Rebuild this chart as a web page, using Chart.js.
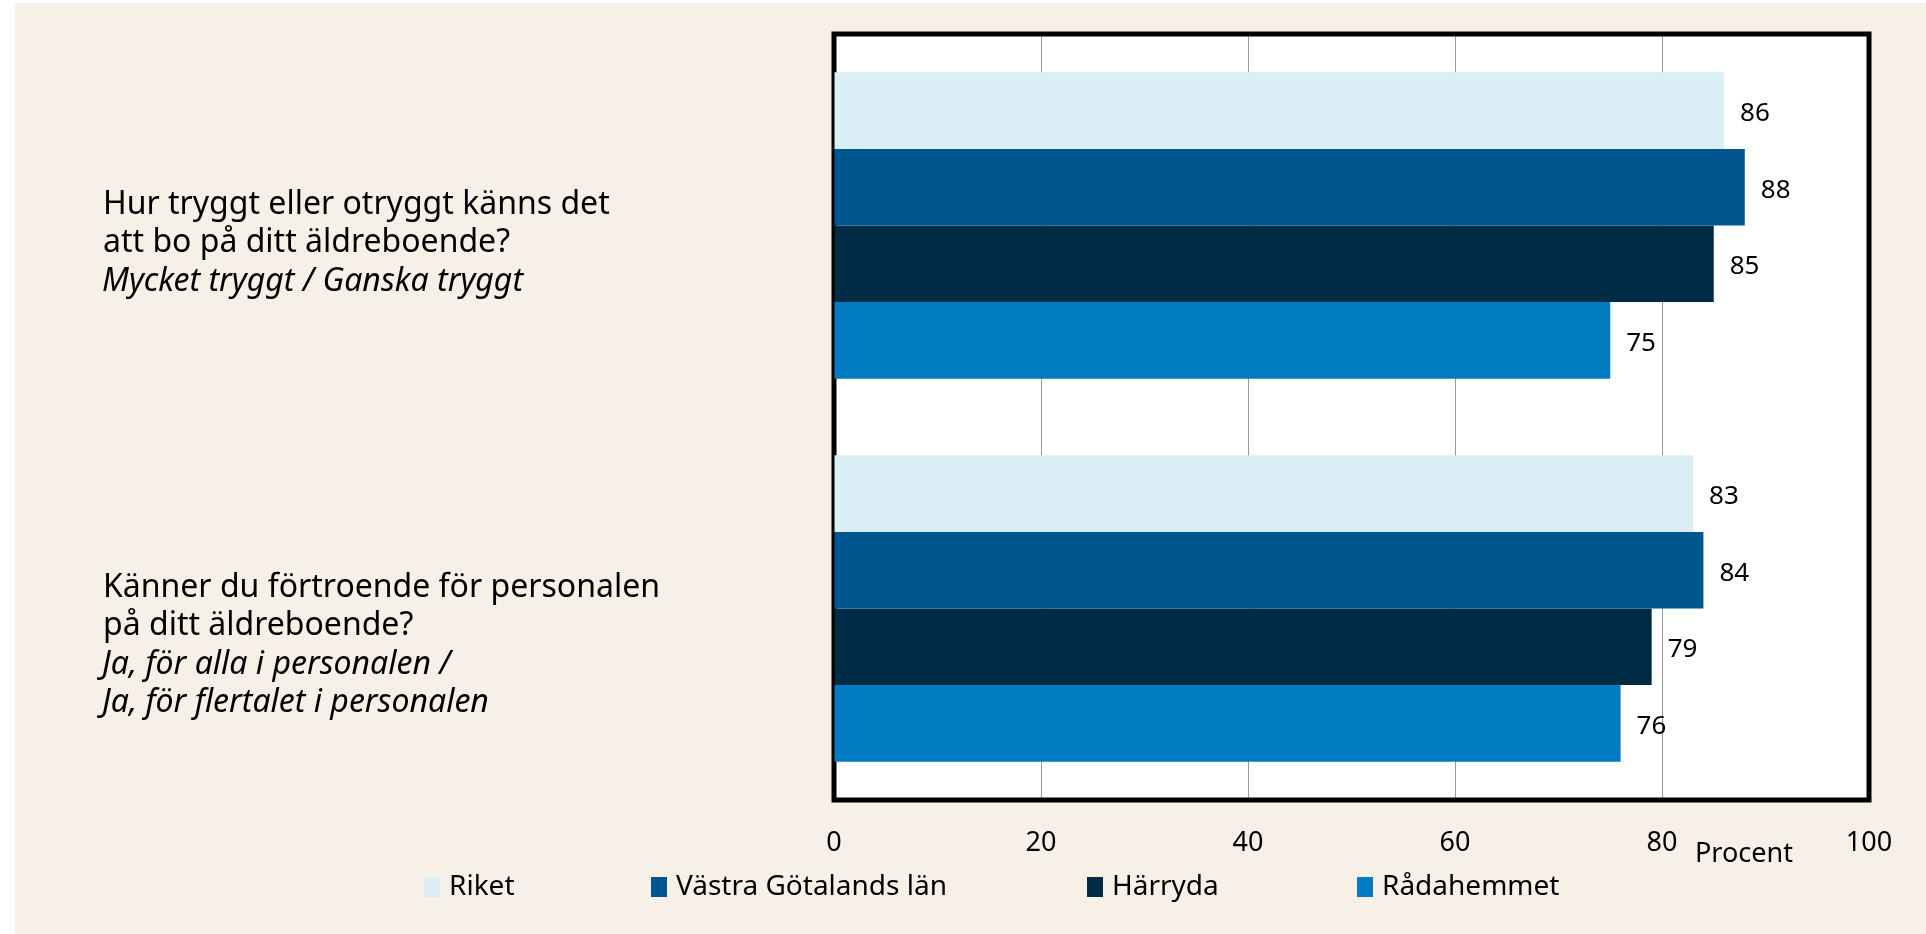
<!DOCTYPE html>
<html>
<head>
<meta charset="utf-8">
<script src="https://cdn.jsdelivr.net/npm/chart.js@4.4.1/dist/chart.umd.min.js"></script>
<style>
    html, body { margin: 0; padding: 0; background: #ffffff; }
    #wrap { width: 1926px; height: 934px; }
</style>
</head>
<body>
<div id="wrap"><canvas id="chart" width="1926" height="934"></canvas></div>
<script>
// Frågor (kategorier), rad för rad: vanlig text och kursiv text
const categories = ['Trygghet', 'Förtroende'];
const categoryLines = [
    ['Hur tryggt eller otryggt känns det', 'att bo på ditt äldreboende?'],
    ['Känner du förtroende för personalen', 'på ditt äldreboende?']
];
const categoryItalicLines = [
    ['Mycket tryggt / Ganska tryggt'],
    ['Ja, för alla i personalen /', 'Ja, för flertalet i personalen']
];

const seriesNames = ['Riket', 'Västra Götalands län', 'Härryda', 'Rådahemmet'];
const seriesColors = ['#daeef6', '#00568f', '#002b45', '#007bc1'];
const riket = [86, 83];
const vastraGotaland = [88, 84];
const harryda = [85, 79];
const radahemmet = [75, 76];
const seriesValues = [riket, vastraGotaland, harryda, radahemmet];

const xTicks = [0, 20, 40, 60, 80, 100];
const axisTitle = 'Procent';

const FONT = '"Noto Sans", "Open Sans", sans-serif';
const LEGEND_X = [424, 651, 1087, 1357];

const CHART = {
    background: {
        id: 'background',
        beforeDraw: (chart) => {
            const { ctx, chartArea } = chart;
            ctx.save();
            ctx.fillStyle = '#ffffff';
            ctx.fillRect(0, 0, chart.width, chart.height);
            ctx.fillStyle = '#f7f0e7';
            ctx.fillRect(15, 3, chart.width - 15, chart.height - 3);
            ctx.fillStyle = '#ffffff';
            ctx.fillRect(chartArea.left, chartArea.top, chartArea.width, chartArea.height);
            ctx.restore();
        },
    },

    frame: {
        id: 'frame',
        beforeDatasetsDraw: (chart) => {
            const { ctx, chartArea } = chart;
            ctx.save();
            ctx.strokeStyle = '#000000';
            ctx.lineWidth = 5;
            ctx.strokeRect(chartArea.left, chartArea.top, chartArea.width, chartArea.height);
            ctx.restore();
        },
    },

    valueLabels: {
        id: 'valueLabels',
        afterDatasetsDraw: (chart) => {
            const { ctx } = chart;
            ctx.save();
            ctx.font = '26px ' + FONT;
            ctx.fillStyle = '#000000';
            ctx.textAlign = 'left';
            ctx.textBaseline = 'middle';
            chart.data.datasets.forEach((dataset, i) => {
                chart.getDatasetMeta(i).data.forEach((bar, j) => {
                    ctx.fillText(String(dataset.data[j]), bar.x + 16, bar.y + 3);
                });
            });
            ctx.restore();
        },
    },

    categoryLabels: {
        id: 'categoryLabels',
        afterDraw: (chart) => {
            const { ctx, scales } = chart;
            const lineHeight = 38.5;
            ctx.save();
            ctx.fillStyle = '#000000';
            ctx.textAlign = 'left';
            ctx.textBaseline = 'middle';
            categories.forEach((cat, i) => {
                const center = scales.y.getPixelForValue(i);
                let y = center - 21;
                categoryLines[i].forEach((line) => {
                    ctx.font = '32px ' + FONT;
                    ctx.fillText(line, 103, y);
                    y += lineHeight;
                });
                categoryItalicLines[i].forEach((line) => {
                    ctx.font = 'italic 32px ' + FONT;
                    ctx.fillText(line, 102, y);
                    y += lineHeight;
                });
            });

            // axeltitel
            ctx.font = '27px ' + FONT;
            ctx.textAlign = 'left';
            ctx.fillText(axisTitle, 1695, 854);
            ctx.restore();
        },
    },

    legend: {
        id: 'customLegend',
        afterDraw: (chart) => {
            const { ctx } = chart;
            const y = 887;
            ctx.save();
            ctx.font = '28px ' + FONT;
            ctx.textAlign = 'left';
            ctx.textBaseline = 'middle';
            chart.data.datasets.forEach((dataset, i) => {
                const x = LEGEND_X[i];
                ctx.fillStyle = dataset.backgroundColor;
                ctx.fillRect(x, y - 10, 16, 20);
                ctx.fillStyle = '#000000';
                ctx.fillText(dataset.label, x + 25, y);
            });
            ctx.restore();
        },
    },
};

const datasets = seriesNames.map((name, i) => ({
    label: name,
    data: seriesValues[i],
    backgroundColor: seriesColors[i],
    borderWidth: 0,
    categoryPercentage: 0.8,
    barPercentage: 1.0,
}));

new Chart(document.getElementById('chart'), {
    type: 'bar',
    data: {
        labels: categories,
        datasets: datasets,
    },
    options: {
        indexAxis: 'y',
        responsive: false,
        animation: false,
        layout: {
            padding: { left: 834, right: 57, top: 34, bottom: 0 },
        },
        plugins: {
            legend: { display: false },
            tooltip: { enabled: false },
        },
        scales: {
            x: {
                min: 0,
                max: 100,
                afterBuildTicks: (scale) => {
                    scale.ticks = xTicks.map((v) => ({ value: v }));
                },
                afterFit: (scale) => {
                    scale.height = 134;
                },
                grid: {
                    color: '#999999',
                    lineWidth: 1,
                    drawTicks: false,
                },
                border: { display: false },
                ticks: {
                    padding: 27,
                    color: '#000000',
                    font: { family: FONT, size: 27 },
                },
            },
            y: {
                display: false,
            },
        },
    },
    plugins: [CHART.background, CHART.frame, CHART.valueLabels, CHART.categoryLabels, CHART.legend],
});
</script>
</body>
</html>
